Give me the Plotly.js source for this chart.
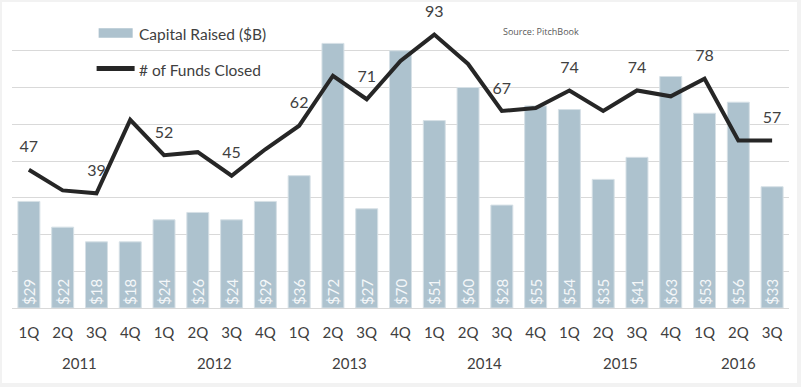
<!DOCTYPE html>
<html>
<head>
<meta charset="utf-8">
<script src="https://cdn.plot.ly/plotly-3.0.1.min.js"></script>
<style>
  html, body { margin: 0; padding: 0; background: #f2f2f2; width: 801px; height: 387px; overflow: hidden; }
  #chart { position: absolute; left: 2px; top: 2px; width: 795px; height: 381px; }
</style>
</head>
<body>
<div id="chart"></div>
<script>
// ---- data ----
const periods = ['1Q11','2Q11','3Q11','4Q11','1Q12','2Q12','3Q12','4Q12','1Q13','2Q13','3Q13','4Q13',
                 '1Q14','2Q14','3Q14','4Q14','1Q15','2Q15','3Q15','4Q15','1Q16','2Q16','3Q16'];
const quarterLabels = ['1Q','2Q','3Q','4Q','1Q','2Q','3Q','4Q','1Q','2Q','3Q','4Q',
                       '1Q','2Q','3Q','4Q','1Q','2Q','3Q','4Q','1Q','2Q','3Q'];
const years = ['2011','2012','2013','2014','2015','2016'];
const quartersPerYear = [4,4,4,4,4,3];
const capitalRaised = [29,22,18,18,24,26,24,29,36,72,27,70,51,60,28,55,54,35,41,63,53,56,33];
const fundsClosed = [47,40,39,64,52,53,45,54,62,79,71,84,93,83,67,68,74,67,74,72,78,57,57];

// ---- styles ----
const FONT = 'Lato, "Open Sans", sans-serif';
const TXT = '#404040';
const BAR = '#adc2ce';

const barTrace = {
  type: 'bar', x: periods, y: capitalRaised, name: 'Capital Raised ($B)',
  marker: { color: BAR, line: { color: '#d6e0e6', width: 1 } },
  width: 0.65,
  text: capitalRaised.map(v => '$' + v),
  textposition: 'inside', insidetextanchor: 'start', textangle: -90,
  textfont: { family: FONT, size: 15, color: '#f4f7f9' },
  hoverinfo: 'skip', showlegend: false, cliponaxis: false
};

const lineTrace = {
  type: 'scatter', mode: 'lines+markers+text', x: periods, y: fundsClosed, yaxis: 'y2',
  name: '# of Funds Closed',
  line: { color: '#262626', width: 4 },
  marker: { size: 20, color: 'rgba(0,0,0,0)' },
  text: fundsClosed.map((v, i) => (i % 2 === 0 ? String(v) : '')),
  textposition: 'top center',
  textfont: { family: FONT, size: 16, color: TXT },
  hoverinfo: 'skip', showlegend: false, cliponaxis: false
};

// year annotations centred under their quarters
const annotations = [];
let start = 0;
years.forEach((yr, k) => {
  const n = quartersPerYear[k];
  annotations.push({
    x: start + (n - 1) / 2, xref: 'x', y: -0.187, yref: 'paper',
    text: yr, showarrow: false, xanchor: 'center', yanchor: 'middle',
    font: { family: FONT, size: 15, color: TXT }
  });
  start += n;
});

// legend (custom) and source
annotations.push(
  { x: 0.1607, y: 0.932, xref: 'paper', yref: 'paper', xanchor: 'left', yanchor: 'middle',
    text: 'Capital Raised ($B)', showarrow: false, font: { family: FONT, size: 15.5, color: TXT } },
  { x: 0.1607, y: 0.8095, xref: 'paper', yref: 'paper', xanchor: 'left', yanchor: 'middle',
    text: '# of Funds Closed', showarrow: false, font: { family: FONT, size: 15.5, color: TXT } },
  { x: 0.6294, y: 0.9398, xref: 'paper', yref: 'paper', xanchor: 'left', yanchor: 'middle',
    text: 'Source: PitchBook', showarrow: false, font: { family: '"Open Sans", sans-serif', size: 9, color: '#595959' } }
);

const shapes = [
  { type: 'rect', xref: 'paper', yref: 'paper', x0: 0.1115, x1: 0.1553, y0: 0.9194, y1: 0.9514,
    fillcolor: BAR, line: { width: 0 } },
  { type: 'line', xref: 'paper', yref: 'paper', x0: 0.1089, x1: 0.1578, y0: 0.8146, y1: 0.8146,
    line: { color: '#262626', width: 5 } }
];

const layout = {
  width: 795, height: 381,
  margin: { l: 10, r: 8, t: 12, b: 75, pad: 0 },
  paper_bgcolor: '#ffffff', plot_bgcolor: '#ffffff',
  font: { family: FONT, color: TXT },
  bargap: 0.35,
  uniformtext: { minsize: 14, mode: 'show' },
  xaxis: {
    type: 'category', tickmode: 'array', tickvals: periods, ticktext: quarterLabels,
    range: [-0.5, periods.length - 0.5], autorange: false,
    tickfont: { family: FONT, size: 15, color: TXT },
    showgrid: false, zeroline: false, showline: false, ticks: '',
    ticklabelstandoff: 14, fixedrange: true
  },
  yaxis: {
    range: [0, 80], dtick: 10, showticklabels: false, ticks: '',
    showgrid: true, gridcolor: '#d9d9d9', gridwidth: 1,
    zeroline: true, zerolinecolor: '#d9d9d9', zerolinewidth: 1, fixedrange: true
  },
  yaxis2: {
    range: [0, 100], overlaying: 'y', side: 'right', visible: false,
    showgrid: false, zeroline: false, fixedrange: true
  },
  annotations: annotations,
  shapes: shapes,
  showlegend: false
};

Plotly.newPlot('chart', [barTrace, lineTrace], layout, { staticPlot: true, displayModeBar: false });
</script>
</body>
</html>
